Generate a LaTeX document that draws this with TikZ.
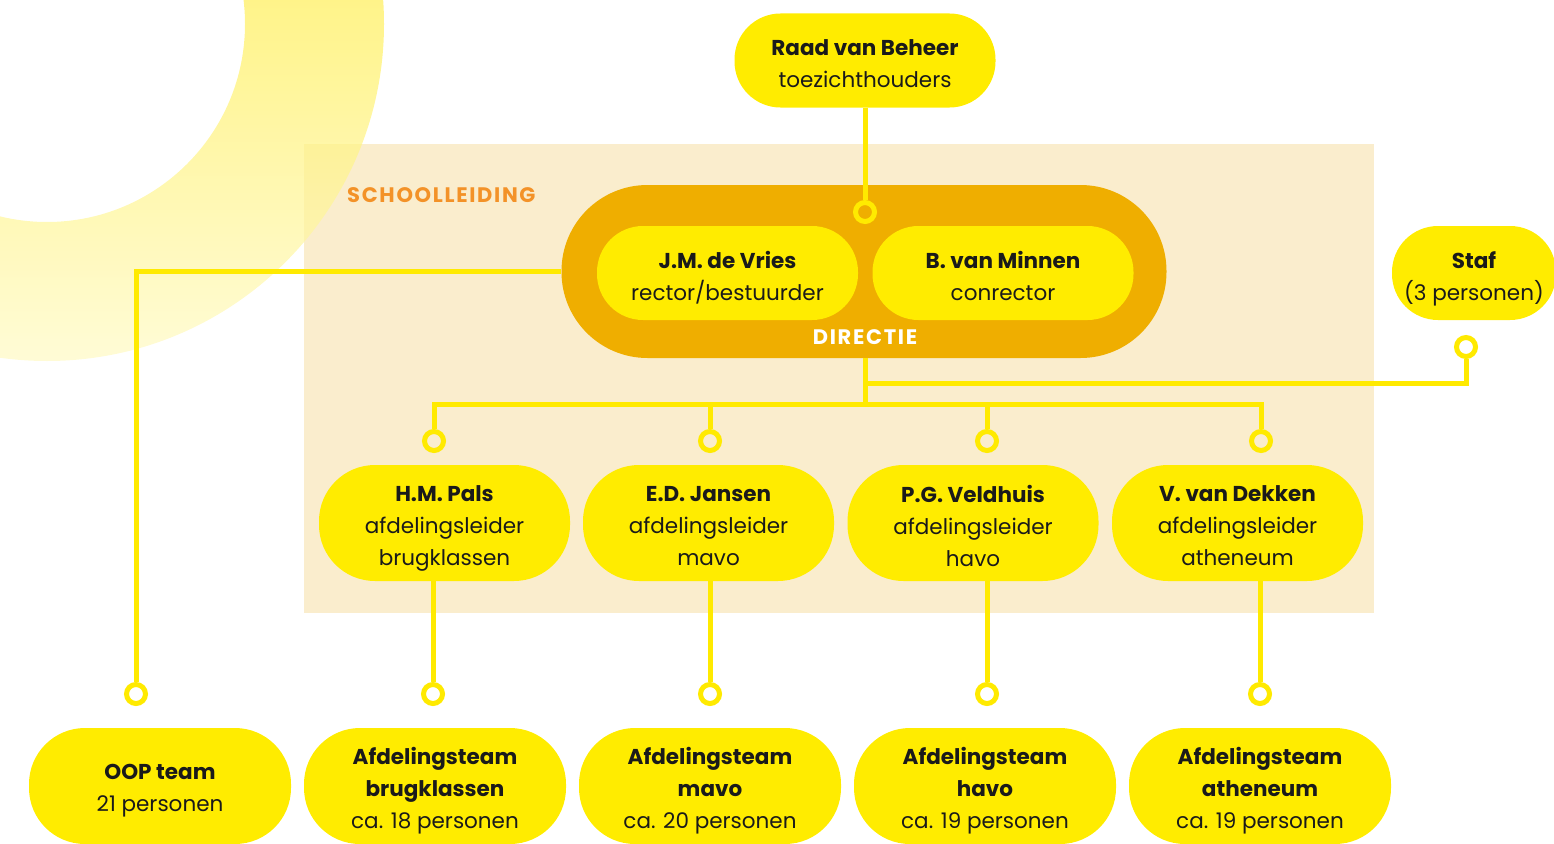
\documentclass[tikz,border=0pt]{standalone}
\usepackage{fontspec}
\setmainfont{Poppins}
\definecolor{nodeyellow}{RGB}{255,236,0}
\definecolor{linkyellow}{RGB}{255,234,0}
\definecolor{dirgold}{RGB}{239,174,0}
\definecolor{beige}{RGB}{250,237,205}
\definecolor{orangetxt}{RGB}{243,146,40}
\definecolor{txt}{RGB}{26,26,26}
\definecolor{ringtop}{RGB}{255,230,0}
\definecolor{ringbot}{RGB}{255,250,198}
\tikzset{
  pill/.style={fill=nodeyellow, rounded corners=46pt, minimum width=261pt, minimum height=94pt, inner sep=0pt},
  pillbig/.style={pill, rounded corners=56pt, minimum height=116pt},
  pilltext/.style={align=center, inner sep=0pt, text=txt, font=\fontsize{21.5}{32}\selectfont,
    execute at begin node=\strut, execute at end node=\strut},
  caps/.style={font=\bfseries\fontsize{21}{24}\selectfont\addfontfeatures{LetterSpace=8}},
  link/.style={draw=linkyellow, line width=5pt},
  ringend/.style={circle, draw=linkyellow, line width=5pt, minimum size=19pt, inner sep=0pt},
}
\begin{document}
\begin{tikzpicture}[x=1pt,y=-1pt]
\useasboundingbox (0,0) rectangle (1554,843);
% school management background
\fill[beige] (304,144) rectangle (1374,613);
% decorative ring
\shade[even odd rule, top color=ringtop, bottom color=ringbot, fill opacity=0.72]
  (47,24) circle[radius=337pt] (47,24) circle[radius=198pt];
\node[anchor=west, text=orangetxt, caps, inner sep=0pt] (lbl) at (347,195) {SCHOOLLEIDING};

% top
\node[pill] (raad) at (865,60.5) {};
\node[pilltext] (raadT) at ([yshift=-7.5pt]raad.center) {\textbf{Raad van Beheer}\\toezichthouders};
\node[fill=dirgold, rounded corners=86pt, minimum width=605pt, minimum height=173pt, inner sep=0pt] (dir) at (864,271.5) {};
\node[pill] (vries) at (727.5,273) {};
\node[pilltext] (vriesT) at ([yshift=-7.5pt]vries.center) {\textbf{J.M. de Vries}\\rector/bestuurder};
\node[pill] (minnen) at (1003,273) {};
\node[pilltext] (minnenT) at ([yshift=-7.5pt]minnen.center) {\textbf{B. van Minnen}\\conrector};
\node[text=white, caps, inner sep=0pt] (dirlbl) at (865,337) {DIRECTIE};
\node[pill, minimum width=164pt] (staf) at (1474,273) {};
\node[pilltext] (stafT) at ([yshift=-7.5pt]staf.center) {\textbf{Staf}\\(3 personen)};

% middle row
\node[pillbig, minimum width=251pt] (pals) at (444.5,523) {};
\node[pilltext] (palsT) at ([yshift=-7.5pt]pals.center) {\textbf{H.M. Pals}\\afdelingsleider\\brugklassen};
\node[pillbig, minimum width=251pt] (jansen) at (708.5,523) {};
\node[pilltext] (jansenT) at ([yshift=-7.5pt]jansen.center) {\textbf{E.D. Jansen}\\afdelingsleider\\mavo};
\node[pillbig, minimum width=251pt] (veld) at (973,523) {};
\node[pilltext] (veldT) at ([yshift=-7.5pt]veld.center) {\textbf{P.G. Veldhuis}\\afdelingsleider\\havo};
\node[pillbig, minimum width=251pt] (dekken) at (1237.5,523) {};
\node[pilltext] (dekkenT) at ([yshift=-7.5pt]dekken.center) {\textbf{V. van Dekken}\\afdelingsleider\\atheneum};

% bottom row
\node[pillbig, minimum width=262pt] (oop) at (160,786) {};
\node[pilltext] (oopT) at ([yshift=-7pt]oop.center) {\textbf{OOP team}\\21 personen};
\node[pillbig, minimum width=262pt] (tbrug) at (435,786) {};
\node[pilltext] (tbrugT) at ([yshift=-7pt]tbrug.center) {\textbf{Afdelingsteam}\\\textbf{brugklassen}\\ca. 18 personen};
\node[pillbig, minimum width=262pt] (tmavo) at (710,786) {};
\node[pilltext] (tmavoT) at ([yshift=-7pt]tmavo.center) {\textbf{Afdelingsteam}\\\textbf{mavo}\\ca. 20 personen};
\node[pillbig, minimum width=262pt] (thavo) at (985,786) {};
\node[pilltext] (thavoT) at ([yshift=-7pt]thavo.center) {\textbf{Afdelingsteam}\\\textbf{havo}\\ca. 19 personen};
\node[pillbig, minimum width=262pt] (tath) at (1260,786) {};
\node[pilltext] (tathT) at ([yshift=-7pt]tath.center) {\textbf{Afdelingsteam}\\\textbf{atheneum}\\ca. 19 personen};

% ring ends
\node[ringend] (craad) at (865,212) {};
\node[ringend] (cstaf) at (1466,347) {};
\node[ringend] (cm1) at (434,441) {};
\node[ringend] (cm2) at (710,441) {};
\node[ringend] (cm3) at (987,441) {};
\node[ringend] (cm4) at (1261,441) {};
\node[ringend] (coop) at (136,694) {};
\node[ringend] (cb1) at (433,694) {};
\node[ringend] (cb2) at (710,694) {};
\node[ringend] (cb3) at (987,694) {};
\node[ringend] (cb4) at (1260,694) {};

\coordinate (bus) at (865,404);
\coordinate (stafbus) at (865,383);

% connectors
\draw[link] (raad.south) -- (craad.north);
\draw[link] (dir.south -| bus) -- (bus);
\draw[link] (cstaf.south) |- (stafbus);
\draw[link] (cm1.north) |- (bus) -| (cm4.north);
\draw[link] (cm2.north) -- (cm2.north |- bus);
\draw[link] (cm3.north) -- (cm3.north |- bus);
\draw[link] (dir.west) -| (coop.north);
\draw[link] (cb1.north |- pals.south) -- (cb1.north);
\draw[link] (cb2.north |- jansen.south) -- (cb2.north);
\draw[link] (cb3.north |- veld.south) -- (cb3.north);
\draw[link] (cb4.north |- dekken.south) -- (cb4.north);
\end{tikzpicture}
\end{document}
